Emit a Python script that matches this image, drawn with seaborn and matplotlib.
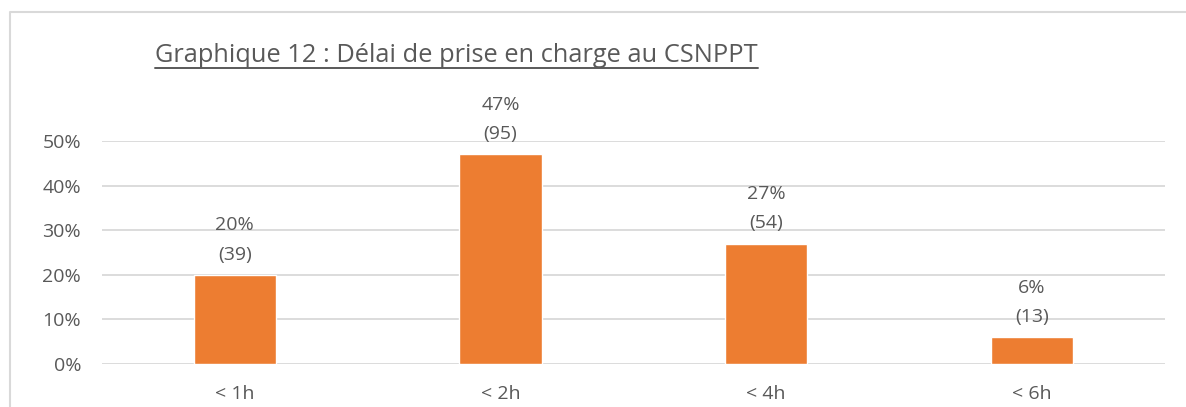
import matplotlib
matplotlib.use("Agg")
import matplotlib.pyplot as plt
import seaborn as sns
import pandas as pd
from matplotlib.lines import Line2D

### Data
categories = ["< 1h", "< 2h", "< 4h", "< 6h"]
pct_values = [20, 47, 27, 6]
counts = [39, 95, 54, 13]

TEXT = "#595959"
GRID = "#D9D9D9"
ORANGE = "#ED7D31"

sns.set_theme(style="white")
plt.rcParams["font.family"] = ["Open Sans", "DejaVu Sans"]

df = pd.DataFrame({"cat": categories, "pct": pct_values})

fig = plt.figure(figsize=(11.86, 4.07), dpi=100)
ax = fig.add_axes([0.086, 0.1057, 0.896, 0.548])

sns.barplot(data=df, x="cat", y="pct", color=ORANGE, width=0.31,
            saturation=1, ax=ax, zorder=3)

ax.set_ylim(0, 50)
ax.set_yticks(range(0, 51, 10))
ax.set_yticklabels([f"{v}%" for v in range(0, 51, 10)])
ax.yaxis.grid(True, color=GRID, lw=1.3, zorder=0)
ax.set_axisbelow(True)
for s in ax.spines.values():
    s.set_visible(False)
ax.tick_params(axis="y", length=0, pad=15, labelsize=14, labelcolor=TEXT)
ax.tick_params(axis="x", length=0, pad=15, labelsize=14, labelcolor=TEXT)
ax.set_xlabel(""); ax.set_ylabel("")

# labels above bars
for i, (p, n) in enumerate(zip(pct_values, counts)):
    ax.annotate(f"{p}%\n({n})", (i, p), xytext=(0, 8), textcoords="offset points",
                ha="center", va="bottom", fontsize=14, color=TEXT,
                linespacing=1.8, clip_on=False)

# title with underline
ty = 1 - 62 / 407
title = fig.text(155 / 1186, ty, "Graphique 12 : Délai de prise en charge au CSNPPT",
                 fontsize=18.3, color=TEXT, ha="left", va="baseline")
fig.canvas.draw()
bb = title.get_window_extent().transformed(fig.transFigure.inverted())
uy = 1 - 68 / 407
fig.add_artist(Line2D([bb.x0, bb.x1], [uy, uy], transform=fig.transFigure,
                      color=TEXT, lw=1.4))

# outer frame
fx, fy = 10 / 1186, 1 - 12 / 407
fig.add_artist(Line2D([fx, fx, 1.0], [0.0, fy, fy], transform=fig.transFigure,
                      color=GRID, lw=1.5))

plt.savefig("out.png", dpi=100)
